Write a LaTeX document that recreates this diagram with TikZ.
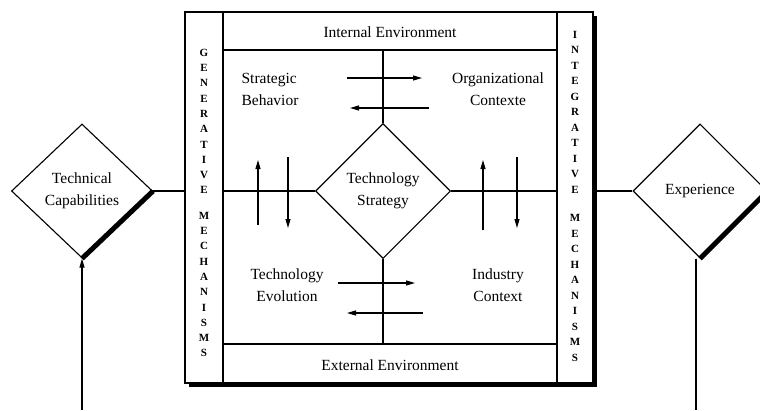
\documentclass[tikz,border=0pt]{standalone}
\usepackage{fontspec}
\setmainfont{Liberation Serif}
\usepackage{tikz}
\usetikzlibrary{shapes.geometric, arrows.meta, positioning}
\tikzset{
    lbl/.style={font=\fontsize{15.5}{22}\selectfont, inner sep=0pt, align=center},
    mech/.style={font=\fontsize{11}{15.3}\selectfont\bfseries, inner sep=0pt, align=center},
    rhomb/.style={diamond, draw, fill=white, inner sep=0pt, align=center, font=\fontsize{15.5}{22}\selectfont},
    flow/.style={-{Triangle[length=9pt,width=5pt]}},
    shade/.style={line width=5pt, shift={(2.5,2.5)}}
}
\begin{document}
\begin{tikzpicture}[x=1pt, y=-1pt, line width=1.1pt]
    \useasboundingbox (0,0) rectangle (760,410);

    % Frame with shadow
    \fill (189,16) rectangle (597,387);
    \node[draw, fill=white, minimum width=408pt, minimum height=371pt] (frame) at (389,197.5) {};
    \draw (223,12) -- (223,383);
    \draw (557,12) -- (557,383);
    \draw (223,50) -- (557,50);
    \draw (223,344) -- (557,344);

    % Bands and columns
    \node[lbl] (internal) at (390,32) {Internal Environment};
    \node[lbl] (external) at (390,365) {External Environment};
    \node[mech] (gen) at (204,203) {G\\E\\N\\E\\R\\A\\T\\I\\V\\E\\[10pt]M\\E\\C\\H\\A\\N\\I\\S\\M\\S};
    \node[mech, font=\fontsize{11}{15.5}\selectfont\bfseries] (integ) at (575,196) {I\\N\\T\\E\\G\\R\\A\\T\\I\\V\\E\\[13pt]M\\E\\C\\H\\A\\N\\I\\S\\M\\S};

    % Inner quadrants
    \node[lbl, align=left] (strat) at (270,89) {Strategic\\Behavior};
    \node[lbl] (orgctx) at (498,89) {Organizational\\Contexte};
    \node[lbl] (techevo) at (287,285) {Technology\\Evolution};
    \node[lbl] (indctx) at (498,285) {Industry\\Context};

    % Diamonds
    \node[rhomb, minimum width=135pt, minimum height=135pt] (techstrat) at (383,191) {Technology\\Strategy};
    \node[rhomb, minimum width=141pt, minimum height=134pt] (techcap) at (82,191) {Technical\\Capabilities};
    \node[rhomb, minimum width=134pt, minimum height=134pt] (exper) at (700,191) {Experience};
    \draw[shade] (techcap.east) -- (techcap.south);
    \draw[shade] (exper.east) -- (exper.south);

    % Axes
    \draw (techstrat.north) -- (techstrat.north |- 0,50);
    \draw (techstrat.south) -- (techstrat.south |- 0,344);
    \draw (223,191) -- (techstrat.west);
    \draw (techstrat.east) -- (557,191);
    \draw (techcap.east) -- (techcap.east -| frame.west);
    \draw (frame.east |- exper.west) -- (exper.west);

    % Free ends
    \coordinate (capin) at (82,410);
    \coordinate (expout) at (696,410);
    \draw[flow] (capin) -- (techcap.south);
    \draw (exper.south -| expout) -- (expout);

    % Exchange arrows
    \foreach \s/\e in {{347,78}/{422,78}, {429,108}/{350,108}, {338,283}/{415,283}, {423,313}/{347,313},
                       {258,225}/{258,160}, {288,157}/{288,228}, {483,230}/{483,160}, {517,157}/{517,228}}
        \draw[flow] (\s) -- (\e);
\end{tikzpicture}
\end{document}
